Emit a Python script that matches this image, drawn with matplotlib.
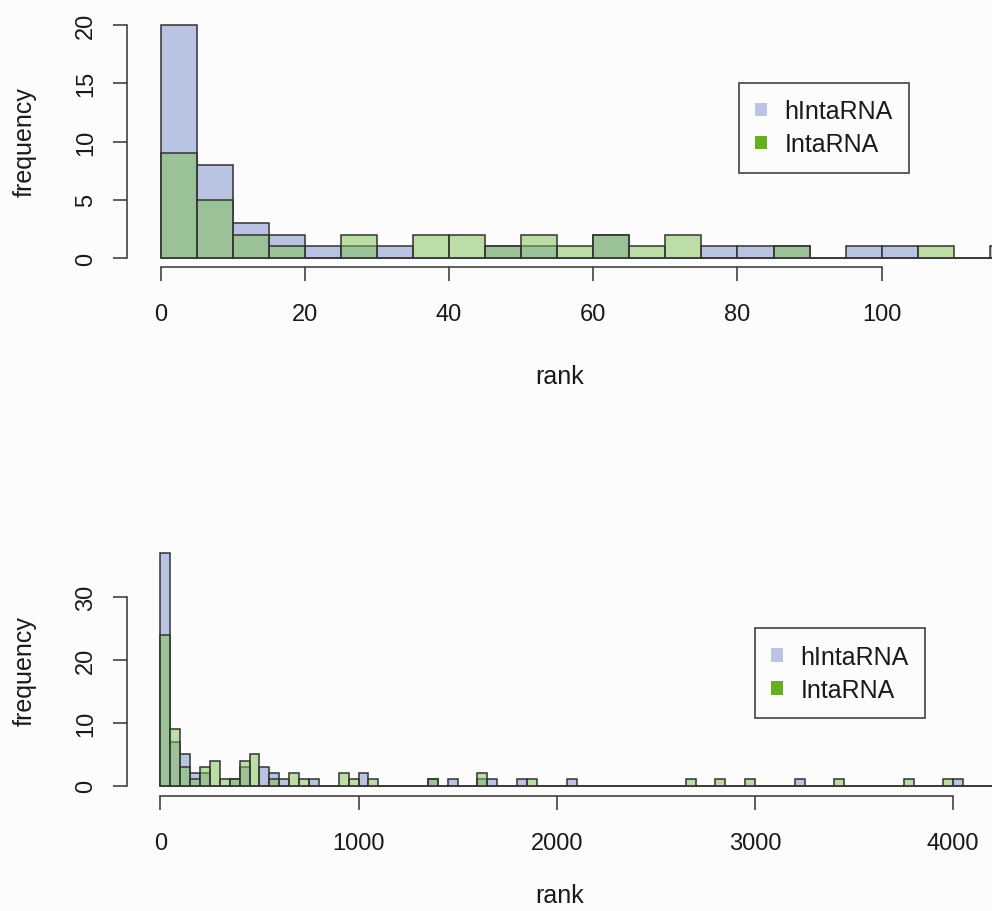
import matplotlib
matplotlib.use("Agg")

import matplotlib.pyplot as plt
import numpy as np
from matplotlib.colors import to_rgba
from matplotlib.patches import Patch


# top panel: rank bins of width 5, counts per bin
TOP_BIN_WIDTH = 5
TOP_HINTARNA = [20, 8, 3, 2, 1, 1, 1, 0, 0, 1, 1, 0, 2, 0, 0, 1, 1, 1, 0, 1, 1, 0, 0, 1]
TOP_INTARNA = [9, 5, 2, 1, 0, 2, 0, 2, 2, 1, 2, 1, 2, 1, 2, 0, 0, 1, 0, 0, 0, 1, 0, 0]
TOP_XTICKS = [0, 20, 40, 60, 80, 100]
TOP_YTICKS = [0, 5, 10, 15, 20]

# bottom panel: rank bins of width 50, only non-empty bins listed
BOTTOM_BIN_WIDTH = 50
BOTTOM_N_BINS = 85
BOTTOM_HINTARNA_BINS = [0, 50, 100, 150, 200, 350, 400, 500, 550, 600, 750, 1000,
                        1350, 1450, 1600, 1650, 1800, 2050, 3200, 4000]
BOTTOM_HINTARNA_COUNTS = [37, 7, 5, 2, 2, 1, 3, 3, 2, 1, 1, 2,
                          1, 1, 1, 1, 1, 1, 1, 1]
BOTTOM_INTARNA_BINS = [0, 50, 100, 150, 200, 250, 300, 350, 400, 450, 550, 650, 700,
                       900, 950, 1050, 1350, 1600, 1850, 2650, 2800, 2950, 3400,
                       3750, 3950]
BOTTOM_INTARNA_COUNTS = [24, 9, 3, 1, 3, 4, 1, 1, 4, 5, 1, 2, 1,
                         2, 1, 1, 1, 2, 1, 1, 1, 1, 1,
                         1, 1]
BOTTOM_XTICKS = [0, 1000, 2000, 3000, 4000]
BOTTOM_YTICKS = [0, 10, 20, 30]

LABELS = ["hIntaRNA", "IntaRNA"]

BLUE = "#b8c4e2"
GREEN = "#7fbf52"
GREEN_KEY = "#64b01e"
EDGE = "#333333"
TEXT = "#1a1a1a"
BG = "#fcfcfc"


def expand(bins, counts, width, n_bins):
    full = np.zeros(n_bins)
    for start, count in zip(bins, counts):
        full[int(start // width)] = count
    return full


def draw_panel(ax, width, blue, green, xticks, yticks, xlim, ylim, legend_at):
    left = np.arange(len(blue)) * width
    ax.bar(left, blue, width=width, align="edge", facecolor=BLUE,
           edgecolor=EDGE, linewidth=1.1)
    ax.bar(left, green, width=width, align="edge",
           facecolor=to_rgba(GREEN, 0.5), edgecolor=EDGE, linewidth=1.1)

    ax.set_xlim(*xlim)
    ax.set_ylim(*ylim)
    ax.set_facecolor(BG)
    for side in ("top", "right"):
        ax.spines[side].set_visible(False)
    ax.spines["left"].set_bounds(yticks[0], yticks[-1])
    ax.spines["bottom"].set_bounds(xticks[0], xticks[-1])
    for side in ("left", "bottom"):
        ax.spines[side].set_color(EDGE)
        ax.spines[side].set_linewidth(1.1)

    ax.set_xticks(xticks)
    ax.set_yticks(yticks)
    ax.set_yticklabels([str(v) for v in yticks], rotation=90, va="center")
    ax.tick_params(length=10, width=1.1, color=EDGE, labelcolor=TEXT,
                   labelsize=17)
    ax.tick_params(axis="x", pad=16)
    ax.tick_params(axis="y", pad=11.5)

    ax.set_xlabel("rank", fontsize=18, color=TEXT, va="center")
    ax.set_ylabel("frequency", fontsize=18, color=TEXT, va="center")
    ax.yaxis.set_label_coords(-0.118, 0.5)

    handles = [Patch(facecolor=BLUE, edgecolor="none"),
               Patch(facecolor=GREEN_KEY, edgecolor="none")]
    leg = ax.legend(handles, LABELS, loc="upper left", bbox_to_anchor=legend_at,
                    borderaxespad=0, fontsize=18, frameon=True, fancybox=False,
                    framealpha=1, edgecolor=EDGE, facecolor=BG,
                    handlelength=0.48, handleheight=0.48, handletextpad=0.68,
                    borderpad=0.66, labelspacing=0.36)
    leg.get_frame().set_linewidth(1.1)
    for t in leg.get_texts():
        t.set_color(TEXT)


def main() -> None:
    plt.rcParams["font.family"] = ["Liberation Sans", "DejaVu Sans"]

    fig = plt.figure(figsize=(9.92, 9.12), dpi=100, facecolor=BG)
    ax_top = fig.add_axes([0.128, 0.7065, 0.872, 0.2745])
    ax_bot = fig.add_axes([0.128, 0.1264, 0.872, 0.276])

    draw_panel(ax_top, TOP_BIN_WIDTH, TOP_HINTARNA, TOP_INTARNA,
               TOP_XTICKS, TOP_YTICKS, (-4.67, 115.3), (-0.75, 20.75),
               (0.7075, 0.734))
    ax_top.xaxis.set_label_coords(0.5, -0.437)

    blue = expand(BOTTOM_HINTARNA_BINS, BOTTOM_HINTARNA_COUNTS,
                  BOTTOM_BIN_WIDTH, BOTTOM_N_BINS)
    green = expand(BOTTOM_INTARNA_BINS, BOTTOM_INTARNA_COUNTS,
                   BOTTOM_BIN_WIDTH, BOTTOM_N_BINS)
    draw_panel(ax_bot, BOTTOM_BIN_WIDTH, blue, green,
               BOTTOM_XTICKS, BOTTOM_YTICKS, (-168.6, 4196), (-1.59, 38.48),
               (0.726, 0.666))
    ax_bot.xaxis.set_label_coords(0.5, -0.394)

    fig.savefig("out.png", dpi=100, facecolor=BG)
    plt.close(fig)


if __name__ == "__main__":
    main()
